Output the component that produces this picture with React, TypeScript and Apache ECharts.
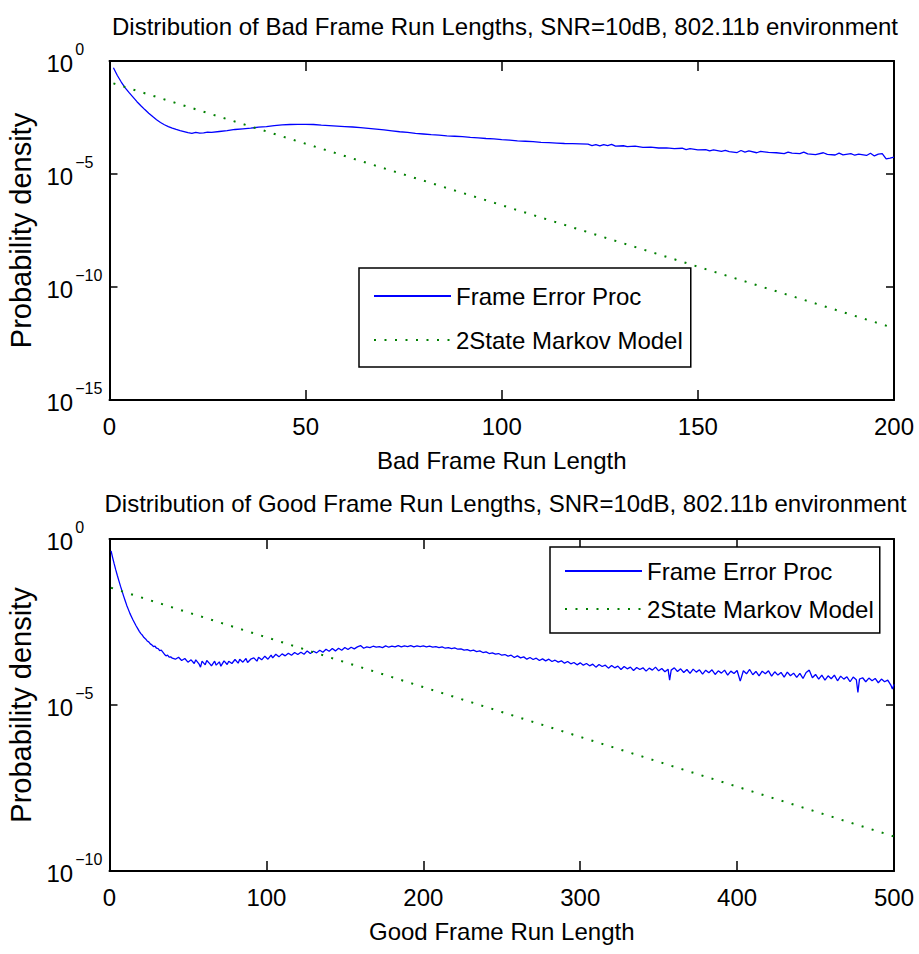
import React, { useEffect, useRef } from 'react';
import * as echarts from 'echarts';

const FONT = '"Liberation Sans", Arial, Helvetica, sans-serif';

const plotTitles = [
  'Distribution of Bad Frame Run Lengths, SNR=10dB, 802.11b environment',
  'Distribution of Good Frame Run Lengths, SNR=10dB, 802.11b environment',
];
const xAxisNames = ['Bad Frame Run Length', 'Good Frame Run Length'];
const yAxisName = 'Probability density';
const seriesNames = ['Frame Error Proc', '2State Markov Model'];

// tick values
const badXTicks = [0, 50, 100, 150, 200];
const goodXTicks = [0, 100, 200, 300, 400, 500];
const badYExponents = [-15, -10, -5, 0];
const goodYExponents = [-10, -5, 0];

// [run length, log10(probability density)]
const badFrameErrorProc: [number, number][] = [
  [1, -0.30], [2, -0.64], [3, -0.93], [4, -1.19], [5, -1.40], [6, -1.60], [7, -1.80], [8, -1.98],
  [9, -2.15], [10, -2.31], [11, -2.46], [12, -2.60], [13, -2.72], [14, -2.82], [15, -2.90], [16, -2.97],
  [17, -3.03], [18, -3.08], [19, -3.12], [20, -3.17], [21, -3.20], [22, -3.16], [23, -3.19], [24, -3.18],
  [25, -3.15], [26, -3.16], [28, -3.12], [30, -3.08], [32, -3.03], [34, -3.00], [36, -2.97], [38, -2.93],
  [40, -2.90], [42, -2.86], [44, -2.83], [46, -2.81], [48, -2.80], [50, -2.80], [52, -2.81], [54, -2.84],
  [56, -2.86], [58, -2.88], [60, -2.90], [62, -2.92], [64, -2.95], [66, -2.98], [68, -3.01], [70, -3.05],
  [72, -3.09], [74, -3.13], [76, -3.16], [78, -3.20], [80, -3.23], [82, -3.26], [84, -3.28], [86, -3.31],
  [88, -3.33], [90, -3.35], [92, -3.38], [94, -3.40], [96, -3.43], [98, -3.45], [100, -3.48], [102, -3.50],
  [104, -3.53], [106, -3.55], [108, -3.57], [110, -3.60], [112, -3.61], [114, -3.63], [116, -3.65], [118, -3.66],
  [120, -3.67], [122, -3.68], [123, -3.74], [124, -3.70], [125, -3.76], [126, -3.70], [127, -3.74], [128, -3.69],
  [129, -3.77], [131, -3.75], [132, -3.79], [134, -3.77], [136, -3.82], [138, -3.81], [140, -3.85], [142, -3.84],
  [144, -3.88], [146, -3.86], [147, -3.92], [148, -3.88], [150, -3.93], [152, -3.92], [153, -3.98], [154, -3.93],
  [156, -4.00], [157, -3.95], [158, -4.01], [160, -4.05], [161, -3.96], [162, -4.03], [163, -3.98], [165, -4.06],
  [166, -4.00], [168, -4.04], [170, -4.06], [172, -4.10], [173, -4.03], [174, -4.08], [176, -4.10], [177, -4.03],
  [178, -4.11], [180, -4.14], [182, -4.06], [183, -4.13], [185, -4.16], [186, -4.08], [187, -4.15], [189, -4.10],
  [190, -4.17], [191, -4.12], [193, -4.18], [194, -4.08], [195, -4.20], [196, -4.12], [197, -4.10], [198, -4.33],
  [199, -4.30], [200, -4.25],
];

const badMarkovModel: [number, number][] = [
  [1, -0.99], [25, -2.30], [50, -3.66], [75, -5.02], [100, -6.38], [125, -7.74], [150, -9.10],
  [175, -10.46], [200, -11.82],
];

const goodFrameErrorProc: [number, number][] = [
  [1, -0.36], [2, -0.56], [3, -0.75], [4, -0.93], [5, -1.10], [6, -1.26], [7, -1.42], [8, -1.57], [9, -1.72],
  [10, -1.86], [11, -2.00], [12, -2.12], [13, -2.24], [14, -2.34], [15, -2.44], [16, -2.53], [17, -2.62],
  [18, -2.70], [19, -2.78], [20, -2.85], [21, -2.90], [22, -2.97], [23, -3.01], [24, -3.07], [25, -3.10],
  [26, -3.16], [27, -3.19], [28, -3.24], [29, -3.23], [30, -3.29], [31, -3.30], [32, -3.36], [33, -3.35],
  [34, -3.41], [35, -3.47], [36, -3.52], [37, -3.50], [38, -3.56], [39, -3.55], [40, -3.59], [42, -3.62],
  [44, -3.56], [46, -3.66], [48, -3.60], [50, -3.71], [52, -3.64], [54, -3.75], [55, -3.64], [57, -3.76],
  [58, -3.86], [59, -3.68], [61, -3.79], [62, -3.66], [64, -3.76], [65, -3.82], [67, -3.68], [68, -3.80],
  [70, -3.70], [71, -3.83], [73, -3.67], [75, -3.78], [76, -3.68], [78, -3.75], [80, -3.63], [82, -3.74],
  [83, -3.62], [85, -3.71], [87, -3.60], [88, -3.72], [90, -3.62], [92, -3.58], [94, -3.68], [95, -3.56],
  [97, -3.64], [99, -3.53], [101, -3.62], [103, -3.50], [104, -3.58], [106, -3.47], [108, -3.55], [110, -3.46],
  [112, -3.52], [114, -3.44], [116, -3.50], [118, -3.42], [120, -3.48], [122, -3.41], [124, -3.47], [126, -3.37],
  [128, -3.45], [130, -3.38], [132, -3.43], [134, -3.35], [136, -3.41], [138, -3.32], [140, -3.38], [142, -3.30],
  [144, -3.37], [146, -3.29], [148, -3.35], [150, -3.27], [152, -3.33], [154, -3.26], [156, -3.31], [158, -3.25],
  [160, -3.21], [162, -3.29], [164, -3.25], [166, -3.27], [168, -3.23], [170, -3.26], [172, -3.24], [174, -3.27],
  [176, -3.22], [178, -3.26], [180, -3.23], [182, -3.25], [184, -3.21], [186, -3.25], [188, -3.22], [190, -3.24],
  [192, -3.21], [194, -3.25], [196, -3.22], [198, -3.24], [200, -3.22], [202, -3.25], [204, -3.23], [206, -3.26],
  [208, -3.24], [210, -3.27], [212, -3.25], [214, -3.29], [216, -3.27], [218, -3.30], [220, -3.28], [222, -3.32],
  [224, -3.31], [226, -3.35], [228, -3.33], [230, -3.37], [232, -3.35], [234, -3.39], [236, -3.37], [238, -3.42],
  [240, -3.40], [242, -3.45], [244, -3.43], [246, -3.47], [248, -3.45], [250, -3.50], [252, -3.48], [254, -3.53],
  [256, -3.50], [258, -3.57], [260, -3.52], [262, -3.58], [264, -3.55], [266, -3.62], [268, -3.57], [270, -3.63],
  [272, -3.59], [274, -3.66], [276, -3.61], [278, -3.67], [280, -3.62], [282, -3.69], [284, -3.65], [286, -3.71],
  [288, -3.67], [290, -3.74], [292, -3.69], [294, -3.76], [296, -3.72], [298, -3.79], [300, -3.73], [302, -3.80],
  [304, -3.75], [306, -3.82], [308, -3.77], [310, -3.86], [312, -3.78], [314, -3.84], [316, -3.80], [318, -3.89],
  [320, -3.81], [322, -3.88], [324, -3.83], [326, -3.93], [328, -3.84], [330, -3.91], [332, -3.86], [334, -3.96],
  [336, -3.87], [338, -3.93], [340, -3.88], [342, -3.98], [344, -3.89], [346, -3.95], [348, -3.86], [350, -3.97],
  [352, -3.90], [354, -4.00], [356, -3.92], [357, -4.25], [358, -3.95], [360, -3.88], [362, -3.99], [364, -3.91],
  [366, -4.02], [368, -3.93], [370, -4.05], [372, -3.92], [374, -4.01], [376, -3.94], [378, -4.07], [380, -3.95],
  [382, -4.03], [384, -3.94], [386, -4.08], [388, -3.97], [390, -4.04], [392, -3.95], [394, -4.10], [396, -3.98],
  [398, -4.05], [400, -3.96], [402, -4.28], [404, -3.97], [406, -4.06], [408, -3.93], [410, -4.09], [412, -3.99],
  [414, -4.12], [416, -3.98], [418, -4.06], [420, -3.97], [422, -4.13], [424, -4.00], [426, -4.10], [428, -4.02],
  [430, -4.16], [432, -4.01], [434, -4.12], [436, -4.04], [438, -4.17], [440, -4.05], [442, -4.20], [444, -4.02],
  [446, -3.95], [448, -4.18], [450, -4.08], [452, -4.22], [454, -4.10], [456, -4.25], [458, -4.12], [460, -4.21],
  [462, -4.10], [464, -4.27], [466, -4.13], [468, -4.22], [470, -4.15], [472, -4.30], [474, -4.16], [476, -4.24],
  [477, -4.62], [478, -4.22], [480, -4.18], [482, -4.30], [484, -4.19], [486, -4.27], [488, -4.20], [490, -4.33],
  [492, -4.22], [494, -4.30], [496, -4.25], [498, -4.40], [499, -4.52], [500, -4.38],
];

const goodMarkovModel: [number, number][] = [
  [1, -1.47], [50, -2.21], [100, -2.96], [150, -3.71], [200, -4.46], [250, -5.21], [300, -5.96],
  [350, -6.71], [400, -7.46], [450, -8.21], [500, -8.96],
];

const toPoints = (arr: [number, number][]) => arr.map(([x, e]) => [x, Math.pow(10, e)]);

const yLabelFormatter = (v: number) => {
  const e = Math.round(Math.log10(v));
  const txt = e < 0 ? '\u2212' + String(-e) : String(e);
  return `{b|10}{s|${txt}}`;
};

const yRich = {
  b: { fontSize: 24, fontFamily: FONT, color: '#000', verticalAlign: 'bottom', padding: [0, 0, 6, 0] },
  s: { fontSize: 16, fontFamily: FONT, color: '#000', verticalAlign: 'top', padding: [0, 0, 24, 2] },
};

const axisLineStyle = { show: true, onZero: false, lineStyle: { color: '#000', width: 2 } };

function makeX(gridIndex: number, ticks: number[], name: string | null) {
  const min = ticks[0];
  const max = ticks[ticks.length - 1];
  const interval = ticks[1] - ticks[0];
  const main = name !== null;
  return {
    type: 'value',
    gridIndex,
    position: main ? 'bottom' : 'top',
    min,
    max,
    interval,
    axisLine: axisLineStyle,
    axisTick: { show: true, inside: true, length: 10, lineStyle: { color: '#000', width: 1.5 } },
    splitLine: { show: false },
    axisLabel: main
      ? { show: true, fontSize: 24, fontFamily: FONT, color: '#000', margin: 14 }
      : { show: false },
    name: main ? name : '',
    nameLocation: 'middle',
    nameGap: 48,
    nameTextStyle: { fontSize: 24, fontFamily: FONT, color: '#000' },
  };
}

function makeY(gridIndex: number, exps: number[], main: boolean) {
  const min = Math.pow(10, exps[0]);
  const max = Math.pow(10, exps[exps.length - 1]);
  return {
    type: 'log',
    logBase: 10,
    gridIndex,
    position: main ? 'left' : 'right',
    min,
    max,
    interval: exps[1] - exps[0],
    axisLine: axisLineStyle,
    axisTick: { show: true, inside: true, length: 8, lineStyle: { color: '#000', width: 1.5 } },
    splitLine: { show: false },
    minorTick: { show: false },
    axisLabel: main
      ? { show: true, align: 'left', margin: 63, formatter: yLabelFormatter, rich: yRich, showMinLabel: true, showMaxLabel: true }
      : { show: false },
    name: main ? yAxisName : '',
    nameLocation: 'middle',
    nameGap: 70,
    nameTextStyle: { fontSize: 29, fontFamily: FONT, color: '#000' },
  };
}

function makeLegend(left: number, top: number, itemGap: number, padding: number[]) {
  return {
    show: true,
    data: seriesNames,
    orient: 'vertical',
    left,
    top,
    itemWidth: 77,
    itemHeight: 14,
    itemGap,
    padding,
    borderColor: '#000',
    borderWidth: 1.5,
    backgroundColor: '#fff',
    selectedMode: false,
    itemStyle: { opacity: 0, color: 'rgba(0,0,0,0)', borderColor: 'rgba(0,0,0,0)', borderWidth: 0 },
    textStyle: { fontSize: 24, fontFamily: FONT, color: '#000', lineHeight: 30 },
  };
}

const blueStyle = { color: '#0000ff', width: 1.3 };
const greenStyle = { color: '#008000', width: 2, type: [2, 8.5], cap: 'butt' };

export default function App() {
  const ref = useRef<HTMLDivElement>(null);
  useEffect(() => {
    if (!ref.current) return;
    const chart = echarts.init(ref.current, null, { renderer: 'svg' });
    const option: any = {
      animation: false,
      backgroundColor: '#fff',
      textStyle: { fontFamily: FONT },
      grid: [
        { left: 109.5, top: 61, width: 784.5, height: 339, outerBoundsMode: 'none' },
        { left: 109.5, top: 539, width: 784.5, height: 332, outerBoundsMode: 'none' },
      ],
      xAxis: [
        makeX(0, badXTicks, xAxisNames[0]),
        makeX(0, badXTicks, null),
        makeX(1, goodXTicks, xAxisNames[1]),
        makeX(1, goodXTicks, null),
      ],
      yAxis: [
        makeY(0, badYExponents, true),
        makeY(0, badYExponents, false),
        makeY(1, goodYExponents, true),
        makeY(1, goodYExponents, false),
      ],
      legend: [
        makeLegend(359, 268, 14, [13, 8, 12, 14]),
        makeLegend(550, 547, 8, [9, 6, 9, 14]),
      ],
      graphic: [
        {
          type: 'text', x: 505, y: 26,
          style: { text: plotTitles[0], fontSize: 24, fontFamily: FONT, fill: '#000', align: 'center', verticalAlign: 'middle' },
        },
        {
          type: 'text', x: 505.5, y: 503,
          style: { text: plotTitles[1], fontSize: 24, fontFamily: FONT, fill: '#000', align: 'center', verticalAlign: 'middle' },
        },
      ],
      series: [
        {
          type: 'line', name: seriesNames[0], xAxisIndex: 0, yAxisIndex: 0,
          data: toPoints(badFrameErrorProc), symbol: 'none', lineStyle: blueStyle, itemStyle: { color: '#0000ff' },
        },
        {
          type: 'line', name: seriesNames[1], xAxisIndex: 0, yAxisIndex: 0,
          data: toPoints(badMarkovModel), symbol: 'none', lineStyle: greenStyle, itemStyle: { color: '#008000' },
        },
        {
          type: 'line', name: seriesNames[0], xAxisIndex: 2, yAxisIndex: 2,
          data: toPoints(goodFrameErrorProc), symbol: 'none', lineStyle: blueStyle, itemStyle: { color: '#0000ff' },
        },
        {
          type: 'line', name: seriesNames[1], xAxisIndex: 2, yAxisIndex: 2,
          data: toPoints(goodMarkovModel), symbol: 'none', lineStyle: greenStyle, itemStyle: { color: '#008000' },
        },
      ],
    };
    chart.setOption(option);
    return () => chart.dispose();
  }, []);
  return (
    <div
      ref={ref}
      style={{ position: 'absolute', left: 0, top: 0, width: 919, height: 954, background: '#fff' }}
    />
  );
}
